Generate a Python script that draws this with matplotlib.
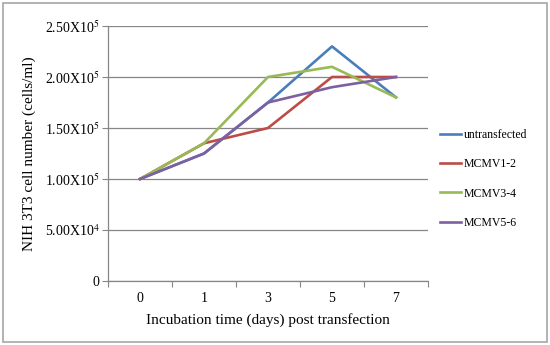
import matplotlib
matplotlib.use("Agg")
import matplotlib.pyplot as plt
from matplotlib.patches import Rectangle

plt.rcParams["font.family"] = ["Liberation Serif", "DejaVu Serif"]
plt.rcParams["mathtext.fontset"] = "stix"

# data
days = ["0", "1", "3", "5", "7"]
untransfected = [1.00e5, 1.25e5, 1.75e5, 2.30e5, 1.80e5]
mcmv1_2 = [1.00e5, 1.35e5, 1.50e5, 2.00e5, 2.00e5]
mcmv3_4 = [1.00e5, 1.35e5, 2.00e5, 2.10e5, 1.80e5]
mcmv5_6 = [1.00e5, 1.25e5, 1.75e5, 1.90e5, 2.00e5]

y_ticks = [0, 5.0e4, 1.0e5, 1.5e5, 2.0e5, 2.5e5]
y_tick_labels = ["0", r"5.00X10$^{4}$", r"1.00X10$^{5}$", r"1.50X10$^{5}$",
                 r"2.00X10$^{5}$", r"2.50X10$^{5}$"]

series = [
    ("untransfected", untransfected, "#4A7EBB"),
    ("MCMV1-2", mcmv1_2, "#BE4B48"),
    ("MCMV3-4", mcmv3_4, "#98B954"),
    ("MCMV5-6", mcmv5_6, "#7D60A0"),
]

fig = plt.figure(figsize=(5.5, 3.45), dpi=100)
ax = fig.add_axes([108 / 550, 1 - 281 / 345, 320 / 550, 255 / 345])

# outer border of the chart area
fig.patches.append(Rectangle((3 / 550, 3 / 345), 544 / 550, 339 / 345,
                             transform=fig.transFigure, fill=False,
                             edgecolor="#A6A6A6", linewidth=1.2))

x = [i + 0.5 for i in range(len(days))]
for name, vals, color in series:
    ax.plot(x, vals, color=color, linewidth=1.9, label=name)

ax.set_xlim(0, len(days))
ax.set_ylim(0, 2.5e5)
ax.set_yticks(y_ticks)
ax.set_yticklabels(y_tick_labels, fontsize=10)
ax.set_xticks(range(len(days) + 1))
ax.set_xticklabels([])
ax.set_xticks(x, minor=True)
ax.set_xticklabels(days, minor=True, fontsize=10)
ax.tick_params(axis="x", which="minor", length=0, pad=8)
ax.tick_params(axis="x", which="major", length=4, color="#868686", direction="out")
ax.tick_params(axis="y", length=4, color="#868686", direction="out", pad=2)

ax.grid(axis="y", color="#868686", linewidth=0.9)
ax.set_axisbelow(True)
for side in ["top", "right"]:
    ax.spines[side].set_visible(False)
for side in ["left", "bottom"]:
    ax.spines[side].set_color("#868686")
    ax.spines[side].set_linewidth(0.9)

ax.set_xlabel("Incubation time (days) post transfection", fontsize=11, labelpad=6)
ax.set_ylabel("NIH 3T3 cell number (cells/ml)", fontsize=11, labelpad=6)

ax.legend(loc="center left", bbox_to_anchor=(1.0, 0.40), frameon=False,
          fontsize=8.5, handlelength=1.8, handletextpad=0.25,
          labelspacing=1.45, borderaxespad=0.6)

fig.savefig("out.png", dpi=100)
